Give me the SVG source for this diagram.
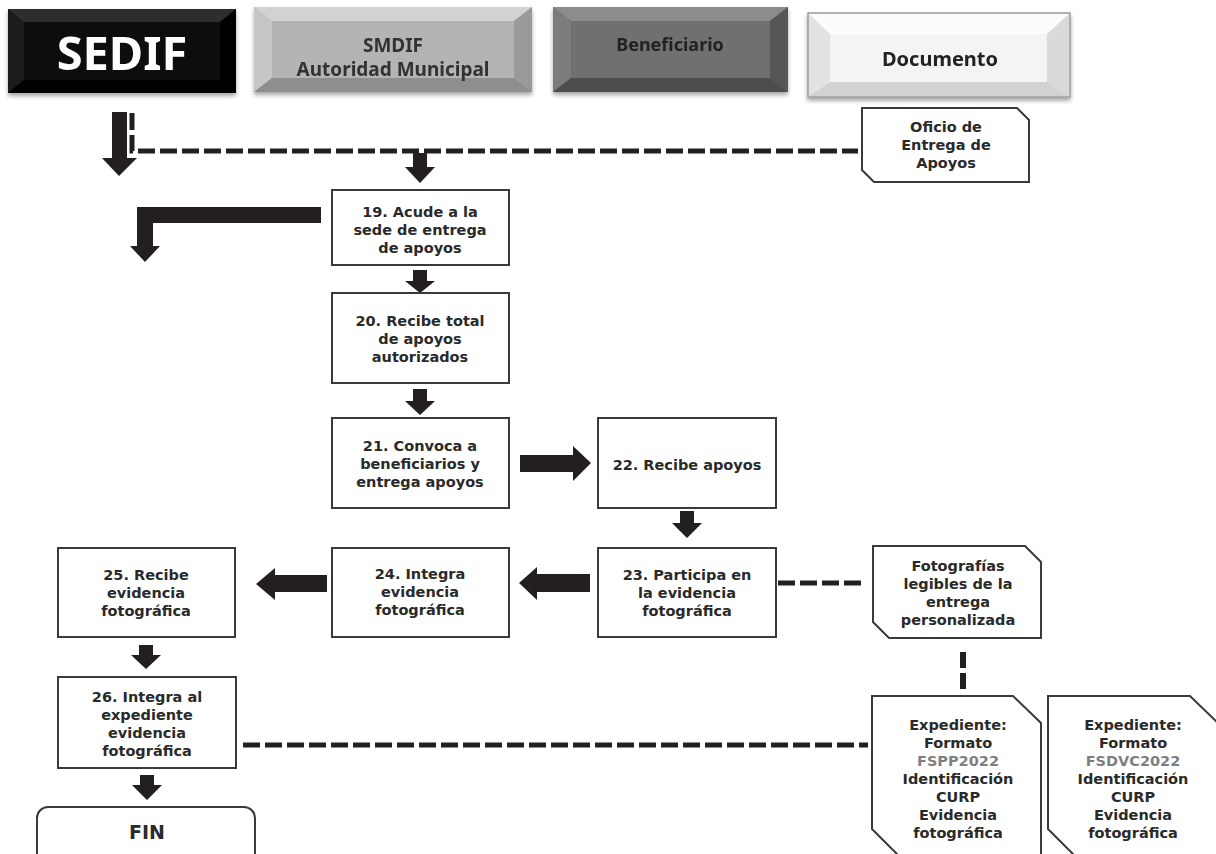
<svg xmlns="http://www.w3.org/2000/svg" width="1216" height="854" viewBox="0 0 1216 854">
<defs>
<filter id="sh" x="-5%" y="-5%" width="110%" height="120%"><feDropShadow dx="0" dy="3" stdDeviation="2" flood-color="#000" flood-opacity="0.35"/></filter>
</defs>
<style>
.box{fill:#fff;stroke:#3a3a3a;stroke-width:2}
.t{font-family:"DejaVu Sans",Verdana,sans-serif;font-weight:bold;font-size:14.5px;fill:#2a2a2a;text-anchor:middle}
.h{font-family:"Noto Sans","DejaVu Sans",sans-serif;font-weight:bold;text-anchor:middle}
.ar{fill:#231f20}
.dash{fill:none;stroke:#231f20;stroke-width:5;stroke-dasharray:17 5}
</style>
<rect width="1216" height="854" fill="#fff"/>

<g id="hdr-sedif" filter="url(#sh)">
<rect x="8" y="9" width="228" height="84" fill="#111"/>
<polygon points="8,9 236,9 220,22 24,22" fill="#2e2e2e"/>
<polygon points="8,9 24,22 24,80 8,93" fill="#1e1e1e"/>
<polygon points="236,9 236,93 220,80 220,22" fill="#050505"/>
<polygon points="8,93 24,80 220,80 236,93" fill="#000"/>
<text class="h" x="122" y="70" font-size="47" fill="#fff">SEDIF</text>
</g>
<g id="hdr-smdif" filter="url(#sh)">
<rect x="254" y="7" width="278" height="85" fill="#b4b4b4"/>
<polygon points="254,7 532,7 514,21 272,21" fill="#d2d2d2"/>
<polygon points="254,7 272,21 272,78 254,92" fill="#c6c6c6"/>
<polygon points="532,7 532,92 514,78 514,21" fill="#9a9a9a"/>
<polygon points="254,92 272,78 514,78 532,92" fill="#8e8e8e"/>
<text class="h" x="393" y="52" font-size="19" fill="#333">SMDIF</text>
<text class="h" x="393" y="76" font-size="19" fill="#333">Autoridad Municipal</text>
</g>
<g id="hdr-benef" filter="url(#sh)">
<rect x="553" y="7" width="235" height="85" fill="#6f6f6f"/>
<polygon points="553,7 788,7 770,21 571,21" fill="#8c8c8c"/>
<polygon points="553,7 571,21 571,78 553,92" fill="#7c7c7c"/>
<polygon points="788,7 788,92 770,78 770,21" fill="#565656"/>
<polygon points="553,92 571,78 770,78 788,92" fill="#4e4e4e"/>
<text class="h" x="670" y="51" font-size="18" fill="#222">Beneficiario</text>
</g>
<g id="hdr-doc" filter="url(#sh)">
<rect x="808" y="13" width="262" height="84" fill="#f3f3f3" stroke="#9a9a9a" stroke-width="1.5"/>
<polygon points="809,14 1069,14 1047,34 830,34" fill="#fcfcfc"/>
<polygon points="809,14 830,34 830,82 809,96" fill="#e2e2e2"/>
<polygon points="1069,14 1069,96 1047,82 1047,34" fill="#dadada"/>
<polygon points="809,96 830,82 1047,82 1069,96" fill="#d2d2d2"/>
<rect x="830" y="34" width="217" height="48" fill="#f4f4f4"/>
<text class="h" x="940" y="66" font-size="20" fill="#222">Documento</text>
</g>

<g id="connectors">
<polygon class="ar" points="112,112 127,112 127,158 137,158 119,176 102,158 112,158"/>
<path class="dash" d="M132 113 V151 H858"/>
<polygon class="ar" points="413,153 427,153 427,167 435,167 420,183 405,167 413,167"/>
<polygon class="ar" points="321,207 137,207 137,246 130,246 145,262 160,246 153,246 153,223 321,223"/>
<polygon class="ar" points="413,270 427,270 427,281 435,281 420,293 405,281 413,281"/>
<polygon class="ar" points="413,389 427,389 427,401 435,401 420,415 405,401 413,401"/>
<polygon class="ar" points="520,455 573,455 573,446 591,463 573,481 573,472 520,472"/>
<polygon class="ar" points="680,511 694,511 694,523 702,523 687,538 672,523 680,523"/>
<polygon class="ar" points="590,574 537,574 537,567 519,583 537,600 537,592 590,592"/>
<path class="dash" d="M778 583 H862"/>
<polygon class="ar" points="327,575 275,575 275,568 256,584 275,600 275,592 327,592"/>
<path class="dash" d="M963 652 V690" style="stroke-width:6;stroke-dasharray:16 5"/>
<polygon class="ar" points="139,645 153,645 153,655 161,655 146,669 131,655 139,655"/>
<path class="dash" d="M243 745 H868"/>
<polygon class="ar" points="140,775 154,775 154,785 162,785 147,800 132,785 140,785"/>
</g>

<g id="oficio">
<polygon class="box" points="862,108 1017,108 1029,120 1029,182 874,182 862,170"/>
<text class="t" x="946" y="132">Oficio de</text>
<text class="t" x="946" y="150">Entrega de</text>
<text class="t" x="946" y="168">Apoyos</text>
</g>
<g id="n19">
<rect class="box" x="332" y="190" width="177" height="75"/>
<text class="t" x="420" y="217">19. Acude a la</text>
<text class="t" x="420" y="235">sede de entrega</text>
<text class="t" x="420" y="253">de apoyos</text>
</g>
<g id="n20">
<rect class="box" x="332" y="293" width="177" height="90"/>
<text class="t" x="420" y="326">20. Recibe total</text>
<text class="t" x="420" y="344">de apoyos</text>
<text class="t" x="420" y="362">autorizados</text>
</g>
<g id="n21">
<rect class="box" x="332" y="418" width="177" height="90"/>
<text class="t" x="420" y="451">21. Convoca a</text>
<text class="t" x="420" y="469">beneficiarios y</text>
<text class="t" x="420" y="487">entrega apoyos</text>
</g>
<g id="n22">
<rect class="box" x="598" y="418" width="178" height="90"/>
<text class="t" x="687" y="470">22. Recibe apoyos</text>
</g>
<g id="n23">
<rect class="box" x="598" y="548" width="178" height="89"/>
<text class="t" x="687" y="580">23. Participa en</text>
<text class="t" x="687" y="598">la evidencia</text>
<text class="t" x="687" y="616">fotográfica</text>
</g>
<g id="n24">
<rect class="box" x="332" y="548" width="177" height="89"/>
<text class="t" x="420" y="579">24. Integra</text>
<text class="t" x="420" y="597">evidencia</text>
<text class="t" x="420" y="615">fotográfica</text>
</g>
<g id="n25">
<rect class="box" x="58" y="548" width="177" height="89"/>
<text class="t" x="146" y="580">25. Recibe</text>
<text class="t" x="146" y="598">evidencia</text>
<text class="t" x="146" y="616">fotográfica</text>
</g>
<g id="n26">
<rect class="box" x="58" y="677" width="178" height="91"/>
<text class="t" x="147" y="702">26. Integra al</text>
<text class="t" x="147" y="720">expediente</text>
<text class="t" x="147" y="738">evidencia</text>
<text class="t" x="147" y="756">fotográfica</text>
</g>
<g id="fin">
<rect class="box" x="37" y="807" width="218" height="60" rx="11"/>
<text class="t" x="147" y="839" style="font-size:19px">FIN</text>
</g>
<g id="fotos">
<polygon class="box" points="873,546 1025,546 1041,562 1041,638 889,638 873,622"/>
<text class="t" x="958" y="571">Fotografías</text>
<text class="t" x="958" y="589">legibles de la</text>
<text class="t" x="958" y="607">entrega</text>
<text class="t" x="958" y="625">personalizada</text>
</g>
<g id="exp1">
<polygon class="box" points="872,696 1013,696 1041,723 1041,860 903,860 872,829"/>
<text class="t" x="958" y="730">Expediente:</text>
<text class="t" x="958" y="748">Formato</text>
<text class="t" x="958" y="766" style="fill:#7f7f7f">FSPP2022</text>
<text class="t" x="958" y="784">Identificación</text>
<text class="t" x="958" y="802">CURP</text>
<text class="t" x="958" y="820">Evidencia</text>
<text class="t" x="958" y="838">fotográfica</text>
</g>
<g id="exp2">
<polygon class="box" points="1048,696 1190,696 1218,723 1218,860 1079,860 1048,829"/>
<text class="t" x="1133" y="730">Expediente:</text>
<text class="t" x="1133" y="748">Formato</text>
<text class="t" x="1133" y="766" style="fill:#7f7f7f">FSDVC2022</text>
<text class="t" x="1133" y="784">Identificación</text>
<text class="t" x="1133" y="802">CURP</text>
<text class="t" x="1133" y="820">Evidencia</text>
<text class="t" x="1133" y="838">fotográfica</text>
</g>
</svg>
